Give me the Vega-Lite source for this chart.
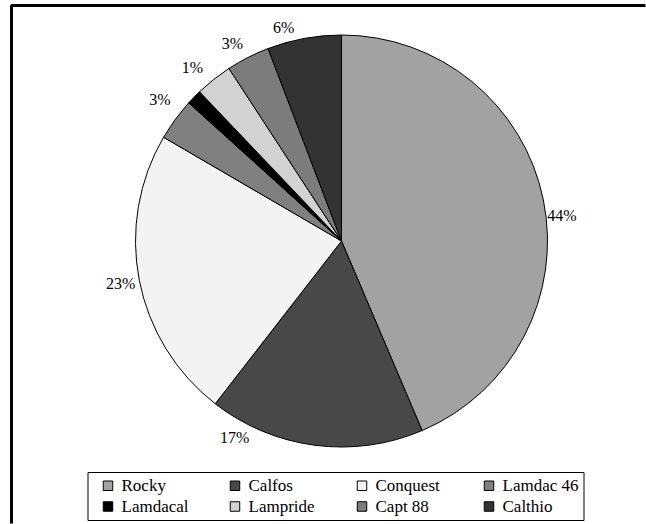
{
  "$schema": "https://vega.github.io/schema/vega-lite/v6.json",
  "width": 634,
  "height": 518,
  "autosize": {"type": "none"},
  "padding": {"left": 11.5, "top": 5.5, "right": 0, "bottom": 0},
  "background": "white",
  "view": {"stroke": "black", "strokeWidth": 3, "strokeDash": [634, 1152, 518], "strokeJoin": "bevel", "strokeCap": "butt"},
  "config": {
    "view": {"stroke": "black", "strokeWidth": 3, "strokeDash": [634, 1152, 518], "strokeJoin": "bevel", "strokeCap": "butt"},
    "style": {
      "cell": {"stroke": "black", "strokeWidth": 3, "strokeDash": [634, 1152, 518], "strokeJoin": "bevel", "strokeCap": "butt"}
    },
    "font": "Liberation Serif, Times New Roman, Times, serif"
  },
  "data": {
    "values": [
      {"name": "Rocky", "value": 43.6, "order": 1, "label": "44%"},
      {"name": "Calfos", "value": 16.9, "order": 2, "label": "17%"},
      {"name": "Conquest", "value": 22.9, "order": 3, "label": "23%"},
      {"name": "Lamdac 46", "value": 3.3, "order": 4, "label": "3%"},
      {"name": "Lamdacal", "value": 1.2, "order": 5, "label": "1%"},
      {"name": "Lampride", "value": 2.9, "order": 6, "label": ""},
      {"name": "Capt 88", "value": 3.4, "order": 7, "label": "3%"},
      {"name": "Calthio", "value": 5.8, "order": 8, "label": "6%"}
    ]
  },
  "encoding": {
    "theta": {"field": "value", "type": "quantitative", "stack": true},
    "order": {"field": "order", "type": "quantitative"}
  },
  "layer": [
    {
      "mark": {"type": "arc", "radius": 206, "stroke": "black", "strokeWidth": 1, "xOffset": 13, "yOffset": -23.5},
      "encoding": {
        "color": {
          "field": "name",
          "type": "nominal",
          "sort": ["Rocky", "Calfos", "Conquest", "Lamdac 46", "Lamdacal", "Lampride", "Capt 88", "Calthio"],
          "scale": {
            "domain": ["Rocky", "Calfos", "Conquest", "Lamdac 46", "Lamdacal", "Lampride", "Capt 88", "Calthio"],
            "range": ["#a2a2a2", "#484848", "#f3f3f3", "#808080", "#000000", "#d2d2d2", "#7c7c7c", "#333333"]
          },
          "legend": {
            "orient": "none",
            "legendX": 76,
            "legendY": 466.5,
            "direction": "horizontal",
            "columns": 4,
            "title": null,
            "gridAlign": "all",
            "columnPadding": 22,
            "rowPadding": 3,
            "padding": 5,
            "symbolOffset": 7,
            "symbolType": "square",
            "symbolSize": 90,
            "symbolStrokeColor": "black",
            "symbolStrokeWidth": 1,
            "labelFont": "Liberation Serif, Times New Roman, Times, serif",
            "labelFontSize": 17,
            "labelColor": "black",
            "labelOffset": 5,
            "labelLimit": 200,
            "strokeColor": "black",
            "fillColor": "white"
          }
        }
      }
    },
    {
      "mark": {
        "type": "text",
        "radius": 225,
        "xOffset": 13,
        "yOffset": -23.5,
        "font": "Liberation Serif, Times New Roman, Times, serif",
        "fontSize": 16,
        "color": "black",
        "baseline": "middle",
        "align": "center",
        "dx": {"expr": "datum.name === 'Calfos' ? -78 : (datum.name === 'Lamdacal' ? 12 : (datum.name === 'Calthio' ? -17 : (datum.name === 'Capt 88' ? -7 : 0)))"},
        "dy": {"expr": "datum.name === 'Calfos' ? -26 : (datum.name === 'Rocky' ? 20 : (datum.name === 'Lamdacal' ? -16 : (datum.name === 'Lamdac 46' ? -8 : (datum.name === 'Calthio' ? 8 : (datum.name === 'Capt 88' ? 3 : 0)))))"}
      },
      "encoding": {
        "text": {"field": "label", "type": "nominal"}
      }
    }
  ]
}
